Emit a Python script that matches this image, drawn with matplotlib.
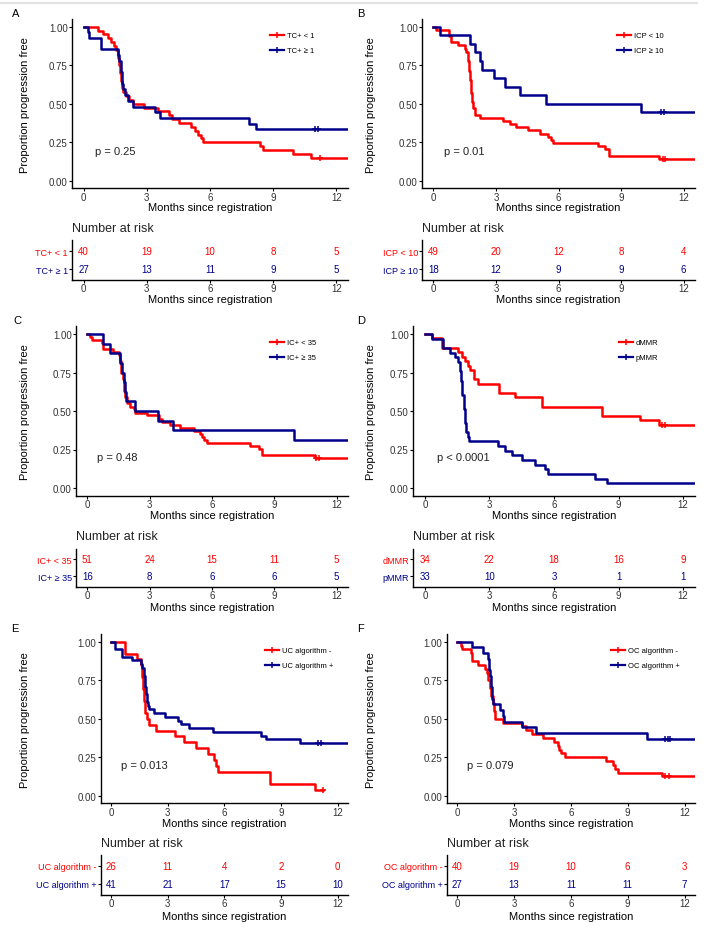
import numpy as np
import matplotlib
matplotlib.use('Agg')
import matplotlib.pyplot as plt
from matplotlib.lines import Line2D

plt.rcParams['font.family'] = ['Liberation Sans', 'DejaVu Sans']

W, H = 707, 928
red = '#FF0000'
blue = '#00008B'
months = [0, 3, 6, 9, 12]

# A: TC+
a_lo_t = [0, 0.70, 0.90, 1.14, 1.30, 1.45, 1.55, 1.62, 1.68, 1.72, 1.76, 1.80, 1.88, 2.00, 2.17,
          2.33, 2.89, 3.52, 4.07, 4.20, 4.55, 5.10, 5.30, 5.42, 5.55, 5.69, 8.35, 8.51, 9.94, 10.81]
a_lo_s = [1.0, 0.975, 0.95, 0.925, 0.9, 0.875, 0.85, 0.8, 0.75, 0.7, 0.65, 0.6, 0.575, 0.55, 0.525,
          0.5, 0.475, 0.45, 0.425, 0.4, 0.375, 0.35, 0.325, 0.3, 0.275, 0.25, 0.225, 0.2, 0.175, 0.15]
a_lo_cens = [11.2]
a_hi_t = [0, 0.19, 0.27, 0.82, 1.62, 1.70, 1.76, 1.82, 1.89, 1.98, 2.09, 2.33, 3.41, 3.63, 7.85, 8.20]
a_hi_s = [1.0, 0.963, 0.926, 0.852, 0.815, 0.778, 0.704, 0.63, 0.593, 0.556, 0.519, 0.481, 0.444, 0.407, 0.37, 0.333]
a_hi_cens = [10.97, 11.13]

# B: ICP
b_lo_t = [0, 0.13, 0.74, 0.85, 1.17, 1.49, 1.57, 1.65, 1.70, 1.75, 1.79, 1.83, 1.89, 1.97, 2.21,
          3.33, 3.65, 3.97, 4.53, 5.09, 5.49, 5.62, 5.73, 7.89, 8.24, 8.40, 10.80]
b_lo_s = [1.0, 0.98, 0.939, 0.898, 0.878, 0.857, 0.837, 0.776, 0.714, 0.653, 0.571, 0.51, 0.469, 0.429, 0.408,
          0.388, 0.367, 0.347, 0.327, 0.306, 0.286, 0.265, 0.245, 0.224, 0.204, 0.163, 0.143]
b_lo_cens = [11.0, 11.12]
b_hi_t = [0, 0.29, 1.73, 1.97, 2.21, 2.34, 2.90, 3.41, 4.13, 5.41, 9.97]
b_hi_s = [1.0, 0.944, 0.889, 0.833, 0.778, 0.722, 0.667, 0.611, 0.556, 0.5, 0.444]
b_hi_cens = [10.93, 11.06]

# C: IC+
c_lo_t = [0, 0.13, 0.21, 0.69, 0.77, 1.25, 1.50, 1.58, 1.64, 1.71, 1.77, 1.83, 1.93, 2.06, 2.22,
          2.30, 2.86, 3.43, 3.59, 3.99, 4.47, 5.12, 5.44, 5.52, 5.63, 5.76, 7.85, 8.25, 8.41, 10.94]
c_lo_s = [1.0, 0.98, 0.961, 0.941, 0.902, 0.882, 0.863, 0.824, 0.745, 0.706, 0.627, 0.588, 0.549, 0.529, 0.51,
          0.49, 0.471, 0.451, 0.431, 0.412, 0.392, 0.373, 0.353, 0.333, 0.314, 0.294, 0.275, 0.255, 0.216, 0.196]
c_lo_cens = [10.99, 11.15]
c_hi_t = [0, 0.77, 1.09, 1.58, 1.66, 1.74, 1.82, 1.87, 2.30, 3.38, 4.12, 9.94]
c_hi_s = [1.0, 0.9375, 0.875, 0.8125, 0.75, 0.6875, 0.625, 0.5625, 0.5, 0.4375, 0.375, 0.3125]
c_hi_cens = []

# D: MMR
d_lo_t = [0, 0.34, 0.81, 1.55, 1.71, 1.87, 2.02, 2.10, 2.30, 2.46, 3.45, 4.17, 5.44, 8.24, 9.98, 10.88]
d_lo_s = [1.0, 0.971, 0.912, 0.882, 0.853, 0.824, 0.794, 0.765, 0.706, 0.676, 0.618, 0.588, 0.529, 0.47, 0.44, 0.41]
d_lo_cens = [11.0, 11.16]
d_hi_t = [0, 0.34, 0.85, 1.17, 1.40, 1.55, 1.63, 1.68, 1.74, 1.80, 1.87, 1.93, 1.99, 2.05, 3.39,
          3.73, 4.04, 4.51, 5.13, 5.60, 5.72, 7.90, 8.47]
d_hi_s = [1.0, 0.97, 0.909, 0.879, 0.848, 0.818, 0.758, 0.697, 0.606, 0.515, 0.424, 0.364, 0.333, 0.303, 0.273,
          0.242, 0.212, 0.182, 0.152, 0.121, 0.091, 0.061, 0.03]
d_hi_cens = []

# E: UC algorithm
e_lo_t = [0, 0.76, 1.38, 1.56, 1.62, 1.67, 1.72, 1.78, 1.92, 2.01, 2.36, 3.39, 3.87, 4.49, 5.11,
          5.47, 5.56, 5.65, 8.40, 10.79]
e_lo_s = [1.0, 0.923, 0.885, 0.846, 0.769, 0.692, 0.615, 0.538, 0.5, 0.462, 0.423, 0.385, 0.346, 0.308, 0.269,
          0.231, 0.192, 0.154, 0.077, 0.038]
e_lo_cens = [11.2]
e_hi_t = [0, 0.2, 0.59, 1.12, 1.56, 1.65, 1.74, 1.79, 1.83, 1.88, 1.94, 2.01, 2.27, 2.86, 3.52,
          3.69, 4.14, 5.38, 7.95, 8.22, 9.99]
e_hi_s = [1.0, 0.951, 0.902, 0.878, 0.854, 0.829, 0.78, 0.707, 0.659, 0.61, 0.585, 0.561, 0.537, 0.512, 0.488,
          0.463, 0.439, 0.415, 0.39, 0.366, 0.341]
e_hi_cens = [10.97, 11.1]

# F: OC algorithm
f_lo_t = [0, 0.18, 0.28, 0.71, 0.76, 1.12, 1.48, 1.56, 1.65, 1.74, 1.80, 1.87, 1.96, 2.01, 2.42,
          3.43, 3.61, 3.96, 4.55, 5.12, 5.33, 5.39, 5.48, 5.69, 7.88, 8.23, 8.32, 8.50, 10.81]
f_lo_s = [1.0, 0.975, 0.95, 0.925, 0.875, 0.85, 0.825, 0.8, 0.75, 0.7, 0.65, 0.6, 0.55, 0.5, 0.475,
          0.45, 0.425, 0.4, 0.375, 0.35, 0.325, 0.3, 0.275, 0.25, 0.225, 0.2, 0.175, 0.15, 0.125]
f_lo_cens = [10.99, 11.16]
f_hi_t = [0, 0.76, 1.39, 1.62, 1.66, 1.70, 1.74, 1.78, 1.82, 1.87, 2.28, 2.40, 2.45, 3.43, 4.14, 10.0]
f_hi_s = [1.0, 0.963, 0.926, 0.889, 0.852, 0.815, 0.778, 0.704, 0.63, 0.593, 0.556, 0.519, 0.481, 0.444, 0.407, 0.37]
f_hi_cens = [10.99, 11.11, 11.22]

# last follow-up of each curve (beyond axis = runs to the edge)
end_full = 13.0
e_lo_end = 11.2

risk_a = [[40, 19, 10, 8, 5], [27, 13, 11, 9, 5]]
risk_b = [[49, 20, 12, 8, 4], [18, 12, 9, 9, 6]]
risk_c = [[51, 24, 15, 11, 5], [16, 8, 6, 6, 5]]
risk_d = [[34, 22, 18, 16, 9], [33, 10, 3, 1, 1]]
risk_e = [[26, 11, 4, 2, 0], [41, 21, 17, 15, 10]]
risk_f = [[40, 19, 10, 6, 3], [27, 13, 11, 11, 7]]

labels_a = ['TC+ < 1', 'TC+ \u2265 1']
labels_b = ['ICP < 10', 'ICP \u2265 10']
labels_c = ['IC+ < 35', 'IC+ \u2265 35']
labels_d = ['dMMR', 'pMMR']
labels_e = ['UC algorithm -', 'UC algorithm +']
labels_f = ['OC algorithm -', 'OC algorithm +']

pvals = ['p = 0.25', 'p = 0.01', 'p = 0.48', 'p < 0.0001', 'p = 0.013', 'p = 0.079']

fig = plt.figure(figsize=(W / 100, H / 100), dpi=100)
fig.add_artist(Line2D([0, 697 / W], [1 - 4 / H] * 2, color='#E3E3E3', lw=1.6))


def box(l, t, r, b):
    return fig.add_axes([l / W, 1 - b / H, (r - l) / W, (b - t) / H])


def ftext(x, y, s, **kw):
    fig.text(x / W, 1 - y / H, s, **kw)


def step_val(t, s, x):
    return s[np.searchsorted(t, x, side='right') - 1]


# vertical layout of the three rows (pixels)
rows = [
    dict(km=(20, 189.4), kmlab=208, nar=229, rr=(252, 270), rlab=300),
    dict(km=(327.3, 496.7), kmlab=516, nar=536.7, rr=(560, 577.3), rlab=608),
    dict(km=(635, 804.4), kmlab=824, nar=844, rr=(866.7, 885), rlab=917),
]

panels = [
    dict(letter='A', row=0, left=72, right=348, lx=16, ylx=25, leg=(270, 33), pxy=(0.54, 0.195),
         curves=[(a_lo_t, a_lo_s, end_full, a_lo_cens), (a_hi_t, a_hi_s, end_full, a_hi_cens)],
         risk=risk_a, labels=labels_a),
    dict(letter='B', row=0, left=422, right=695, lx=361, ylx=371, leg=(617, 33), pxy=(0.49, 0.195),
         curves=[(b_lo_t, b_lo_s, end_full, b_lo_cens), (b_hi_t, b_hi_s, end_full, b_hi_cens)],
         risk=risk_b, labels=labels_b),
    dict(letter='C', row=1, left=76, right=348, lx=17, ylx=25, leg=(270, 340), pxy=(0.45, 0.203),
         curves=[(c_lo_t, c_lo_s, end_full, c_lo_cens), (c_hi_t, c_hi_s, end_full, c_hi_cens)],
         risk=risk_c, labels=labels_c),
    dict(letter='D', row=1, left=413, right=695, lx=361, ylx=371, leg=(619, 340), pxy=(0.55, 0.2),
         curves=[(d_lo_t, d_lo_s, end_full, d_lo_cens), (d_hi_t, d_hi_s, end_full, d_hi_cens)],
         risk=risk_d, labels=labels_d),
    dict(letter='E', row=2, left=100.7, right=348, lx=15, ylx=25, leg=(265, 648), pxy=(0.5, 0.2),
         curves=[(e_lo_t, e_lo_s, e_lo_end, e_lo_cens), (e_hi_t, e_hi_s, end_full, e_hi_cens)],
         risk=risk_e, labels=labels_e),
    dict(letter='F', row=2, left=446.7, right=695, lx=361, ylx=371, leg=(611, 648), pxy=(0.5, 0.2),
         curves=[(f_lo_t, f_lo_s, end_full, f_lo_cens), (f_hi_t, f_hi_s, end_full, f_hi_cens)],
         risk=risk_f, labels=labels_f),
]

xlim = (-0.55, 12.55)
tick_col = '#333333'

for i, p in enumerate(panels):
    r = rows[p['row']]
    ktop, kbot = r['km']
    ax = box(p['left'], ktop, p['right'], kbot)
    handles = []
    for (t, s, end, cens), col, lab in zip(p['curves'], [red, blue], p['labels']):
        ax.step(list(t) + [end], list(s) + [s[-1]], where='post', color=col, lw=1.8)
        if cens:
            ax.plot(cens, [step_val(t, s, c) for c in cens], ls='none', marker='+',
                    ms=5, mew=1.1, color=col)
        handles.append(Line2D([], [], color=col, lw=1.6, marker='+', ms=5, mew=1.1, label=lab))
    ax.set_xlim(*xlim)
    ax.set_ylim(-0.05, 1.05)
    ax.set_xticks(months)
    ax.set_yticks([0, 0.25, 0.5, 0.75, 1.0])
    ax.set_yticklabels(['0.00', '0.25', '0.50', '0.75', '1.00'])
    for sp in ['top', 'right']:
        ax.spines[sp].set_visible(False)
    for sp in ['left', 'bottom']:
        ax.spines[sp].set_linewidth(1.0)
    ax.tick_params(length=2, width=0.8, labelsize=7, labelcolor=tick_col, pad=1)
    ax.tick_params(axis='x', pad=0.5)
    ax.text(p['pxy'][0], p['pxy'][1], pvals[i], fontsize=8, ha='left', va='center', color='#222222')
    lx, ly = p['leg']
    ax.legend(handles=handles, loc='upper left', bbox_to_anchor=(lx / W, 1 - ly / H),
              bbox_transform=fig.transFigure, frameon=False, fontsize=5.5, borderpad=0,
              borderaxespad=0, handlelength=1.8, handletextpad=0.4, labelspacing=1.0)

    ftext(p['lx'], ktop - 6, p['letter'], fontsize=8, ha='center', va='center')
    ftext(p['ylx'], (ktop + kbot) / 2, 'Proportion progression free', fontsize=8,
          rotation=90, ha='center', va='center')
    cx = (p['left'] + p['right']) / 2
    ftext(cx, r['kmlab'], 'Months since registration', fontsize=8, ha='center', va='center')

    # risk table
    r1, r2 = r['rr']
    sp_ = r2 - r1
    ax2 = box(p['left'], r1 - 0.6 * sp_, p['right'], r2 + 0.6 * sp_)
    ax2.set_xlim(*xlim)
    ax2.set_ylim(0.4, 2.6)
    for row_y, counts, col in zip([2, 1], p['risk'], [red, blue]):
        for m, n in zip(months, counts):
            ax2.text(m, row_y, str(n), ha='center', va='center', fontsize=7, color=col)
    ax2.set_xticks(months)
    ax2.set_yticks([2, 1])
    ax2.set_yticklabels(p['labels'])
    for lbl, col in zip(ax2.get_yticklabels(), [red, blue]):
        lbl.set_color(col)
    for sp in ['top', 'right']:
        ax2.spines[sp].set_visible(False)
    for sp in ['left', 'bottom']:
        ax2.spines[sp].set_linewidth(1.0)
    ax2.tick_params(length=2, width=0.8, labelsize=7, pad=1)
    ax2.tick_params(axis='x', labelcolor=tick_col, pad=0.5)
    ax2.tick_params(axis='y', labelsize=6.5)
    ftext(p['left'], r['nar'], 'Number at risk', fontsize=9, ha='left', va='center', color='#222222')
    ftext(cx, r['rlab'], 'Months since registration', fontsize=8, ha='center', va='center')

fig.savefig('out.png', dpi=100)
